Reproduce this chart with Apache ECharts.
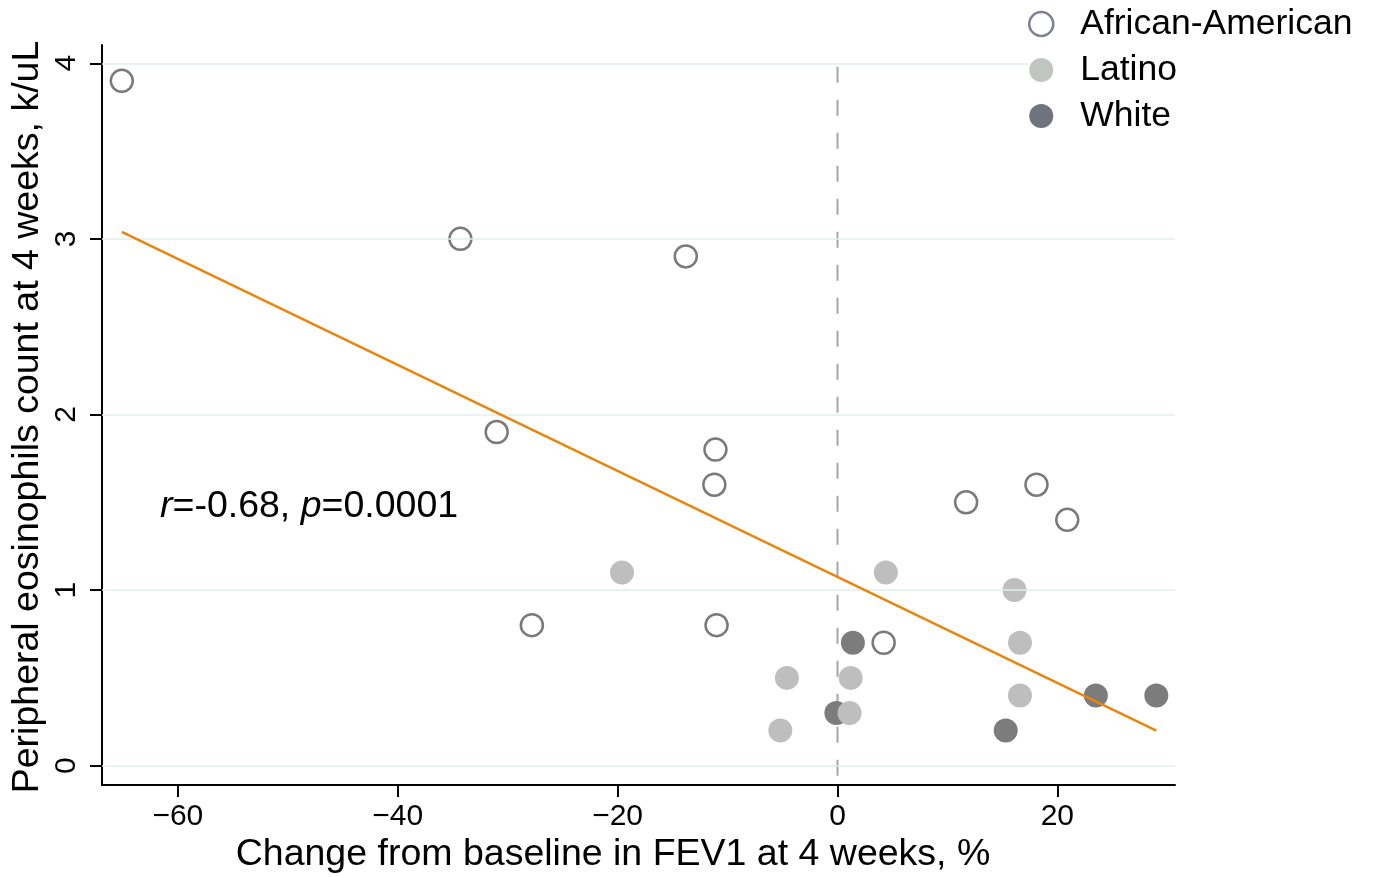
<!DOCTYPE html>
<html>
<head>
<meta charset="utf-8">
<script src="https://cdn.jsdelivr.net/npm/echarts@6/dist/echarts.min.js"></script>
<style>html,body{margin:0;padding:0;background:#fff}#c{width:1373px;height:877px}</style>
</head>
<body>
<div id="c"></div>
<script>
// ---- data ----
const aaX = [-65.1, -34.3, -13.8, -31.0, -11.1, -11.2, -27.8, -11.0, 4.2, 11.7, 18.1, 20.9];
const aaY = [3.9, 3.0, 2.9, 1.9, 1.8, 1.6, 0.8, 0.8, 0.7, 1.5, 1.6, 1.4];
const latX = [-19.6, -4.6, -5.2, 4.4, 1.2, 1.1, 16.1, 16.6, 16.6];
const latY = [1.1, 0.5, 0.2, 1.1, 0.5, 0.3, 1.0, 0.7, 0.4];
const whX = [1.4, -0.1, 15.3, 23.5, 29.0];
const whY = [0.7, 0.3, 0.2, 0.4, 0.4];
const fitX = [-65.1, 29.0];
const fitY = [3.04, 0.20];
const refX = [0, 0];
const refY = [3.98, -0.11];
const xTicks = [-60, -40, -20, 0, 20];
const yTicks = [0, 1, 2, 3, 4];
const groups = ['African-American', 'Latino', 'White'];
const xTitle = 'Change from baseline in FEV1 at 4 weeks, %';
const yTitle = 'Peripheral eosinophils count at 4 weeks, k/uL';

const FONT = "'Liberation Sans', Arial, Helvetica, sans-serif";
const pairs = (xs, ys) => xs.map((x, i) => [x, ys[i]]);

const chart = echarts.init(document.getElementById('c'), null, {renderer: 'canvas'});
chart.setOption({
  animation: false,
  backgroundColor: '#ffffff',
  grid: {left: 102, right: 198, top: 45, bottom: 92, containLabel: false},
  xAxis: {
    type: 'value', min: -66.9, max: 30.7,
    axisLine: {show: true, onZero: false, lineStyle: {color: '#000', width: 2}},
    axisTick: {show: true, length: 12, customValues: xTicks, lineStyle: {color: '#000', width: 2}},
    axisLabel: {customValues: xTicks, margin: 17, fontSize: 30, color: '#000', fontFamily: FONT,
      formatter: v => (v < 0 ? '\u2212' + Math.abs(v) : String(v))},
    splitLine: {show: false}
  },
  yAxis: {
    type: 'value', min: -0.11, max: 4.104,
    axisLine: {show: true, onZero: false, lineStyle: {color: '#000', width: 2}},
    axisTick: {show: true, length: 12, customValues: yTicks, lineStyle: {color: '#000', width: 2}},
    axisLabel: {customValues: yTicks, rotate: 90, margin: 20, fontSize: 30, color: '#000', fontFamily: FONT},
    splitLine: {show: false}
  },
  legend: {
    orient: 'vertical', left: 1028, top: 1, padding: [0, 10, 0, 0], z: 20,
    backgroundColor: '#ffffff',
    itemWidth: 24, itemHeight: 24, itemGap: 0, itemTextGap: 26,
    textStyle: {fontSize: 35.5, color: '#000', fontFamily: FONT, lineHeight: 46, padding: [0, 0, 0, 22]},
    data: [
      {name: groups[0], icon: 'circle', itemStyle: {color: '#ffffff', borderColor: '#7d8190', borderWidth: 2.5}},
      {name: groups[1], icon: 'circle', itemStyle: {color: '#c0c5c2', borderWidth: 0}},
      {name: groups[2], icon: 'circle', itemStyle: {color: '#6e737d', borderWidth: 0}}
    ]
  },
  series: [
    {
      name: 'grid', type: 'line', data: [], silent: true, symbol: 'none',
      markLine: {silent: true, symbol: 'none', label: {show: false},
        lineStyle: {color: '#e3eded', width: 1.5, type: 'solid'},
        data: yTicks.map(v => ({yAxis: v}))},
      z: 1
    },
    {
      name: 'ref', type: 'line', data: pairs(refX, refY), symbol: 'none', silent: true,
      lineStyle: {color: '#a6a6a6', width: 2, type: [16, 17]}, z: 2
    },
    {
      name: groups[0], type: 'scatter', data: pairs(aaX, aaY), symbol: 'circle', symbolSize: 22,
      itemStyle: {color: 'rgba(255,255,255,0)', borderColor: '#7a7a7a', borderWidth: 2.5, opacity: 1}, z: 3
    },
    {
      name: groups[2], type: 'scatter', data: pairs(whX, whY), symbol: 'circle', symbolSize: 24,
      itemStyle: {color: '#7c7c7c', opacity: 1}, z: 3
    },
    {
      name: groups[1], type: 'scatter', data: pairs(latX, latY), symbol: 'circle', symbolSize: 24,
      itemStyle: {color: '#bebebe', opacity: 1}, z: 4
    },
    {
      name: 'fit', type: 'line', data: pairs(fitX, fitY), symbol: 'none', silent: true,
      lineStyle: {color: '#e8850f', width: 2.5}, z: 5
    }
  ],
  graphic: [
    {type: 'text', position: [613, 855],
      style: {text: xTitle, fontSize: 37.5, fontFamily: FONT, fill: '#000', textAlign: 'center', textVerticalAlign: 'middle'}},
    {type: 'text', position: [28, 417], rotation: Math.PI / 2,
      style: {text: yTitle, fontSize: 37.5, fontFamily: FONT, fill: '#000', textAlign: 'center', textVerticalAlign: 'middle'}},
    {type: 'text', position: [160, 507],
      style: {
        text: '{i|r}=-0.68, {i|p}=0.0001',
        fontSize: 37.5, fontFamily: FONT, fill: '#000', textAlign: 'left', textVerticalAlign: 'middle',
        rich: {i: {fontStyle: 'italic', fontSize: 37.5, fontFamily: FONT, fill: '#000'}}
      }}
  ]
});
</script>
</body>
</html>
